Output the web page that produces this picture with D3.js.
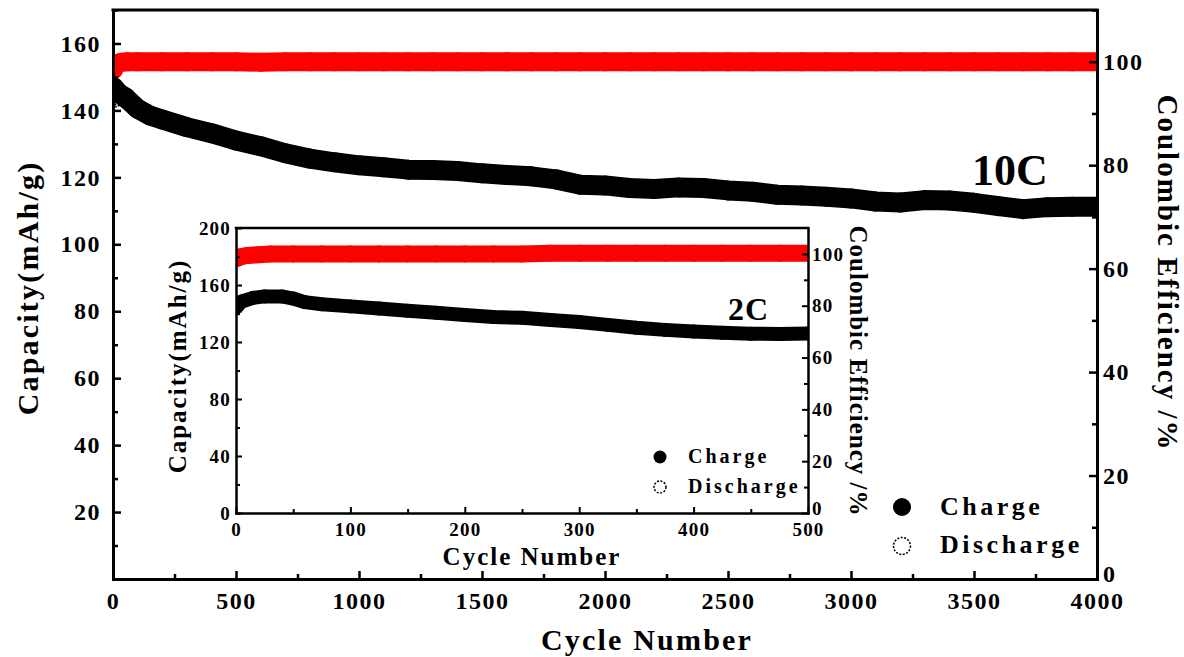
<!DOCTYPE html>
<html><head><meta charset="utf-8">
<script src="https://cdn.jsdelivr.net/npm/d3@7"></script>
<style>
body{margin:0;background:#fff;}
svg{display:block;}
text{font-family:"Liberation Serif","Times New Roman",serif;font-weight:bold;fill:#000;}
</style></head><body>
<svg id="chart"></svg>
<script>
// ---------- MAIN (10C) DATA ----------
const mainCycles = [1,25,50,100,150,200,300,400,500,600,700,800,900,1000,1100,1200,1300,1400,1500,1600,1700,1800,1900,2000,2100,2200,2300,2400,2500,2600,2700,2800,2900,3000,3100,3200,3300,3400,3500,3600,3700,3800,3900,4000];
const mainCharge = [147,145,143.9,140.5,138.5,137.3,135,133.2,131,129.3,127.2,125.6,124.5,123.6,123,122.3,122.2,121.9,121.2,120.7,120.3,119.4,117.8,117.6,116.8,116.5,117,116.8,116.1,115.7,114.8,114.6,114.2,113.7,112.8,112.5,113.2,113.1,112.4,111.4,110.5,111.1,111.2,111.2];
const mainDischarge = [143,143.5,143,140,138,137,134.7,133,130.8,128.8,127,125.4,124.3,123.4,122.8,122.1,122,121.7,121,120.5,120.1,119.2,117.6,117.4,116.6,116.3,116.8,116.6,115.9,115.5,114.6,114.4,114,113.5,112.6,112.3,113,112.9,112.2,111.2,110.3,110.9,111,111];
const mainCECycles = [1,10,20,35,60,100,200,300,400,500,600,700,800,900,1000,1100,1200,1300,1400,1500,1600,1700,1800,1900,2000,2100,2200,2300,2400,2500,2600,2700,2800,2900,3000,3100,3200,3300,3400,3500,3600,3700,3800,3900,4000];
const mainCE = [98.4,99.2,99.7,99.9,100,100,100,100,100,100,99.9,100,100,100,100,100,100,100,100,100,100,100,100,100,100,100,100,100,100,100,100,100,100,100,100,100,100,100,100,100,100,100,100,100,100];
const mainXTicks = [0,500,1000,1500,2000,2500,3000,3500,4000];
const mainXMinor = [250,750,1250,1750,2250,2750,3250,3750];
const mainYTicks = [20,40,60,80,100,120,140,160];
const mainYMinor = [10,30,50,70,90,110,130,150,170];
const mainY2Ticks = [0,20,40,60,80,100];
const mainY2Minor = [10,30,50,70,90,110];

// ---------- INSET (2C) DATA ----------
const insetCycles = [1,5,15,25,40,50,60,75,100,125,150,175,200,225,250,275,300,325,350,375,400,425,450,475,500];
const insetCharge = [145,148.4,151,152,152,150.5,148,146.5,145,143.5,142,140.5,139,137.5,137,135.5,134,132,130,128.5,127.4,126.5,125.8,125.6,126];
const insetDischarge = [142,147,150.5,151.5,151.5,150,147.5,146,144.7,143.2,141.7,140.2,138.7,137.2,136.7,135.2,133.7,131.7,129.7,128.2,127.1,126.2,125.5,125.3,125.7];
const insetCECycles = [1,5,10,20,30,50,75,100,125,150,175,200,225,250,275,300,325,350,375,400,425,450,475,500];
const insetCE = [98.3,99,99.4,99.7,100,100,100,100,100,100,100,100,100,100,100.3,100.3,100.3,100.3,100.3,100.3,100.3,100.3,100.3,100.3];
const insetXTicks = [0,100,200,300,400,500];
const insetXMinor = [50,150,250,350,450];
const insetYTicks = [0,40,80,120,160,200];
const insetYMinor = [20,60,100,140,180];
const insetY2Ticks = [0,20,40,60,80,100];
const insetY2Minor = [10,30,50,70,90];

const legendLabels = ["Charge","Discharge"];

// ---------- DRAWING ----------
const W = 1184, H = 657;
const svg = d3.select("#chart").attr("width", W).attr("height", H);

function band(g, x, y, xs, ys, color, r) {
  const pts = xs.map((c, i) => [c, ys[i]]);
  g.append("path").datum(pts)
    .attr("d", d3.line().x(d => x(d[0])).y(d => y(d[1])))
    .attr("fill", "none").attr("stroke", color).attr("stroke-width", 2 * r)
    .attr("stroke-linejoin", "round").attr("stroke-linecap", "round");
  g.selectAll(null).data(pts).enter().append("circle")
    .attr("cx", d => x(d[0])).attr("cy", d => y(d[1])).attr("r", r).attr("fill", color);
}
function openMarks(g, x, y, xs, ys, r) {
  g.selectAll(null).data(xs.map((c, i) => [c, ys[i]])).enter().append("circle")
    .attr("cx", d => x(d[0])).attr("cy", d => y(d[1])).attr("r", r)
    .attr("fill", "none").attr("stroke", "#000").attr("stroke-width", 1.5)
    .attr("stroke-dasharray", "2,1.5");
}
function styleAxis(sel, o) {
  sel.select(".domain").attr("stroke-width", o.axisW).attr("stroke-linecap", "square");
  sel.selectAll(".tick line").attr("stroke-width", o.tickW);
  sel.selectAll("text").style("font-size", o.tickFont + "px")
    .style("letter-spacing", o.tickLS + "px").style("font-family", '"Liberation Serif","Times New Roman",serif')
    .style("font-weight", "bold");
}

function panel(o) {
  const g = svg.append("g");
  const x = d3.scaleLinear().domain(o.xDomain).range([o.left, o.right]);
  const y = d3.scaleLinear().domain(o.yDomain).range([o.bottom, o.top]);
  const y2 = d3.scaleLinear().domain(o.y2Domain).range([o.bottom, o.top]);

  g.append("rect").attr("x", o.left).attr("y", o.top)
    .attr("width", o.right - o.left).attr("height", o.bottom - o.top).attr("fill", "#fff");

  svg.append("clipPath").attr("id", o.id + "clip").append("rect")
    .attr("x", o.left).attr("y", o.top).attr("width", o.right - o.left).attr("height", o.bottom - o.top);
  const plot = g.append("g").attr("clip-path", `url(#${o.id}clip)`);

  band(plot, x, y2, o.ceCycles, o.ce, "#ff0000", o.rCE);
  openMarks(plot, x, y, o.cycles, o.discharge, o.rCap - 3);
  band(plot, x, y, o.cycles, o.charge, "#000", o.rCap);

  // minor ticks
  g.append("g").attr("transform", `translate(0,${o.bottom})`)
    .call(d3.axisBottom(x).tickValues(o.xMinor).tickFormat("").tickSizeInner(-o.minorLen).tickSizeOuter(0))
    .call(s => { s.select(".domain").remove(); s.selectAll("line").attr("stroke-width", o.tickW); });
  g.append("g").attr("transform", `translate(${o.left},0)`)
    .call(d3.axisLeft(y).tickValues(o.yMinor).tickFormat("").tickSizeInner(-o.minorLen).tickSizeOuter(0))
    .call(s => { s.select(".domain").remove(); s.selectAll("line").attr("stroke-width", o.tickW); });
  g.append("g").attr("transform", `translate(${o.right},0)`)
    .call(d3.axisRight(y2).tickValues(o.y2Minor).tickFormat("").tickSizeInner(-o.minorLen).tickSizeOuter(0))
    .call(s => { s.select(".domain").remove(); s.selectAll("line").attr("stroke-width", o.tickW); });

  // major axes
  g.append("g").attr("transform", `translate(0,${o.bottom})`)
    .call(d3.axisBottom(x).tickValues(o.xTicks).tickFormat(d3.format("d")).tickSizeInner(-o.majorLen).tickSizeOuter(0).tickPadding(o.padX))
    .call(s => styleAxis(s, o));
  g.append("g").attr("transform", `translate(${o.left},0)`)
    .call(d3.axisLeft(y).tickValues(o.yTicks).tickFormat(d3.format("d")).tickSizeInner(-o.majorLen).tickSizeOuter(0).tickPadding(o.padY))
    .call(s => styleAxis(s, o));
  g.append("g").attr("transform", `translate(${o.right},0)`)
    .call(d3.axisRight(y2).tickValues(o.y2Ticks).tickFormat(d3.format("d")).tickSizeInner(-o.majorLen).tickSizeOuter(0).tickPadding(o.padY2))
    .call(s => { styleAxis(s, o); s.selectAll(".tick text").filter(d => d === 0).attr("dy", o.zeroDy); });
  g.append("line").attr("x1", o.left).attr("x2", o.right).attr("y1", o.top).attr("y2", o.top)
    .attr("stroke", "#000").attr("stroke-width", o.axisW).attr("stroke-linecap", "square");

  // axis titles
  g.append("text").attr("x", o.xTitle[0]).attr("y", o.xTitle[1]).attr("text-anchor", "middle")
    .style("font-size", o.titleFont + "px").style("letter-spacing", o.titleLS + "px").text("Cycle Number");
  g.append("text").attr("transform", `translate(${o.yTitle[0]},${o.yTitle[1]}) rotate(-90)`).attr("text-anchor", "middle")
    .style("font-size", o.titleFont + "px").style("letter-spacing", o.titleLS + "px").text("Capacity(mAh/g)");
  g.append("text").attr("transform", `translate(${o.y2Title[0]},${o.y2Title[1]}) rotate(90)`).attr("text-anchor", "middle")
    .style("font-size", o.y2Font + "px").style("letter-spacing", o.y2LS + "px").text("Coulombic Efficiency /%");

  // rate label
  g.append("text").attr("x", o.rate[0]).attr("y", o.rate[1]).style("font-size", o.rateFont + "px")
    .style("letter-spacing", o.rateLS + "px").text(o.rateText);

  // legend
  const lg = g.append("g");
  lg.append("circle").attr("cx", o.leg.cx).attr("cy", o.leg.y1).attr("r", o.leg.r).attr("fill", "#000");
  lg.append("circle").attr("cx", o.leg.cx).attr("cy", o.leg.y2).attr("r", o.leg.r - 0.5)
    .attr("fill", "#fff").attr("stroke", "#000").attr("stroke-width", 1.5).attr("stroke-dasharray", "2,1.5");
  lg.append("text").attr("x", o.leg.tx).attr("y", o.leg.b1).style("font-size", o.leg.font + "px")
    .style("letter-spacing", o.leg.ls + "px").text(legendLabels[0]);
  lg.append("text").attr("x", o.leg.tx).attr("y", o.leg.b2).style("font-size", o.leg.font + "px")
    .style("letter-spacing", o.leg.ls + "px").text(legendLabels[1]);
}

panel({
  id: "main", left: 113, right: 1097, top: 10, bottom: 579,
  xDomain: [0, 4000], yDomain: [0, 170], y2Domain: [0, 110],
  cycles: mainCycles, charge: mainCharge, discharge: mainDischarge,
  ceCycles: mainCECycles, ce: mainCE, rCap: 10, rCE: 9.5,
  xTicks: mainXTicks, xMinor: mainXMinor, yTicks: mainYTicks, yMinor: mainYMinor,
  y2Ticks: mainY2Ticks, y2Minor: mainY2Minor,
  axisW: 3, tickW: 2.5, majorLen: 8, minorLen: 5,
  tickFont: 24, tickLS: 1.5, padX: 13, padY: 12, padY2: 6, zeroDy: "0.12em",
  titleFont: 30, titleLS: 2.2, y2Font: 29, y2LS: 2,
  xTitle: [647, 650], yTitle: [38, 288], y2Title: [1158, 273],
  rate: [972, 185], rateFont: 44, rateLS: 0, rateText: "10C",
  leg: { cx: 902, y1: 507, y2: 546, r: 9, tx: 940, b1: 515, b2: 553, font: 26, ls: 3.5 }
});

panel({
  id: "inset", left: 236, right: 808, top: 228, bottom: 513,
  xDomain: [0, 500], yDomain: [0, 200], y2Domain: [0, 110],
  cycles: insetCycles, charge: insetCharge, discharge: insetDischarge,
  ceCycles: insetCECycles, ce: insetCE, rCap: 7, rCE: 8.5,
  xTicks: insetXTicks, xMinor: insetXMinor, yTicks: insetYTicks, yMinor: insetYMinor,
  y2Ticks: insetY2Ticks, y2Minor: insetY2Minor,
  axisW: 2.5, tickW: 2, majorLen: 6, minorLen: 4,
  tickFont: 19, tickLS: 1.2, padX: 10, padY: 5, padY2: 4, zeroDy: "0.1em",
  titleFont: 25, titleLS: 2, y2Font: 25, y2LS: 1,
  xTitle: [532, 565], yTitle: [186, 366], y2Title: [850, 371],
  rate: [728, 320], rateFont: 32, rateLS: 1, rateText: "2C",
  leg: { cx: 660, y1: 457, y2: 487, r: 6.5, tx: 688, b1: 463, b2: 493, font: 20, ls: 3 }
});
</script>
</body></html>
